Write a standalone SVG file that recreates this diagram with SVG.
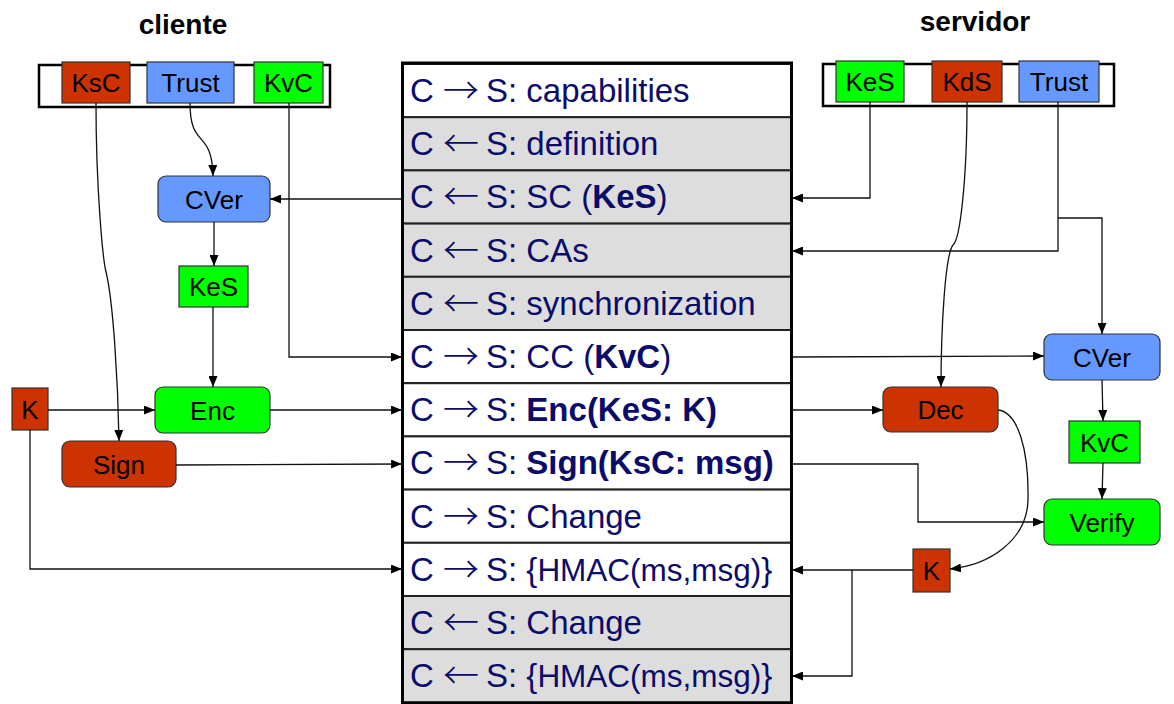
<svg xmlns="http://www.w3.org/2000/svg" width="1174" height="704" viewBox="0 0 1174 704">
<style>
.ttl{font-family:"Liberation Sans",Arial,sans-serif;font-weight:bold;font-size:28px;fill:#000;text-anchor:middle}
.nl{font-family:"Liberation Sans",Arial,sans-serif;font-size:26px;fill:#000;text-anchor:middle}
.red{fill:#cc3300;stroke:#333;stroke-width:1.2}
.blue{fill:#6699ff;stroke:#333;stroke-width:1.2}
.green{fill:#00ff00;stroke:#333;stroke-width:1.2}
.bar{fill:#fff;stroke:#000;stroke-width:2.5}
.row{stroke:#222;stroke-width:2}
.w{fill:#fff}
.g{fill:#dddddd}
.tx{font-family:"Liberation Sans",Arial,sans-serif;font-size:33px;fill:#0b0b6b}
.ar{font-family:"Noto Sans CJK SC","Noto Sans CJK JP",sans-serif;font-size:36px;font-weight:300}
.b{font-weight:bold}
.sm{font-size:31.5px}
.c{fill:none;stroke:#111;stroke-width:1.3;marker-end:url(#ah)}
</style>
<defs>
<marker id="ah" markerUnits="userSpaceOnUse" markerWidth="11" markerHeight="9" refX="11" refY="4.5" orient="auto">
<path d="M0,0 L11,4.5 L0,9 z" fill="#000"/>
</marker>
</defs>
<rect x="0" y="0" width="1174" height="704" fill="#fff"/>

<text class="ttl" x="183" y="34">cliente</text>
<text class="ttl" x="975" y="31">servidor</text>

<g id="table">
<rect class="row w" x="403" y="64" width="388" height="53.2"/>
<rect class="row g" x="403" y="117.2" width="388" height="53.2"/>
<rect class="row g" x="403" y="170.4" width="388" height="53.2"/>
<rect class="row g" x="403" y="223.6" width="388" height="53.2"/>
<rect class="row g" x="403" y="276.8" width="388" height="53.2"/>
<rect class="row w" x="403" y="330" width="388" height="53.2"/>
<rect class="row w" x="403" y="383.2" width="388" height="53.2"/>
<rect class="row w" x="403" y="436.4" width="388" height="53.2"/>
<rect class="row w" x="403" y="489.6" width="388" height="53.2"/>
<rect class="row w" x="403" y="542.8" width="388" height="53.2"/>
<rect class="row g" x="403" y="596" width="388" height="53.2"/>
<rect class="row g" x="403" y="649.2" width="388" height="53.2"/>
<rect x="402.5" y="63" width="389" height="640" fill="none" stroke="#000" stroke-width="3"/>
<text class="tx" y="102"><tspan x="410">C</tspan><tspan class="ar" x="443" y="104">→</tspan><tspan x="486" y="102">S: capabilities</tspan></text>
<text class="tx" y="155.2"><tspan x="410">C</tspan><tspan class="ar" x="443" y="157.2">←</tspan><tspan x="486" y="155.2">S: definition</tspan></text>
<text class="tx" y="208.4"><tspan x="410">C</tspan><tspan class="ar" x="443" y="210.4">←</tspan><tspan x="486" y="208.4">S: SC (</tspan><tspan class="b">KeS</tspan><tspan>)</tspan></text>
<text class="tx" y="261.6"><tspan x="410">C</tspan><tspan class="ar" x="443" y="263.6">←</tspan><tspan x="486" y="261.6">S: CAs</tspan></text>
<text class="tx" y="314.8"><tspan x="410">C</tspan><tspan class="ar" x="443" y="316.8">←</tspan><tspan x="486" y="314.8">S: synchronization</tspan></text>
<text class="tx" y="368"><tspan x="410">C</tspan><tspan class="ar" x="443" y="370">→</tspan><tspan x="486" y="368">S: CC (</tspan><tspan class="b">KvC</tspan><tspan>)</tspan></text>
<text class="tx" y="421.2"><tspan x="410">C</tspan><tspan class="ar" x="443" y="423.2">→</tspan><tspan x="486" y="421.2">S: </tspan><tspan class="b">Enc(KeS: K)</tspan></text>
<text class="tx" y="474.4"><tspan x="410">C</tspan><tspan class="ar" x="443" y="476.4">→</tspan><tspan x="486" y="474.4">S: </tspan><tspan class="b">Sign(KsC: msg)</tspan></text>
<text class="tx" y="527.6"><tspan x="410">C</tspan><tspan class="ar" x="443" y="529.6">→</tspan><tspan x="486" y="527.6">S: Change</tspan></text>
<text class="tx" y="580.8"><tspan x="410">C</tspan><tspan class="ar" x="443" y="582.8">→</tspan><tspan x="486" y="580.8">S: {</tspan><tspan class="sm">HMAC(ms,msg)</tspan><tspan>}</tspan></text>
<text class="tx" y="634"><tspan x="410">C</tspan><tspan class="ar" x="443" y="636">←</tspan><tspan x="486" y="634">S: Change</tspan></text>
<text class="tx" y="687.2"><tspan x="410">C</tspan><tspan class="ar" x="443" y="689.2">←</tspan><tspan x="486" y="687.2">S: {</tspan><tspan class="sm">HMAC(ms,msg)</tspan><tspan>}</tspan></text>
</g>

<g id="client-keys">
<rect class="bar" x="39" y="65" width="291" height="42"/>
</g>
<g id="c-KsC"><rect class="red" x="62" y="62" width="68" height="41"/><text class="nl" x="96" y="92">KsC</text></g>
<g id="c-Trust"><rect class="blue" x="147" y="62" width="87" height="41"/><text class="nl" x="190.5" y="92">Trust</text></g>
<g id="c-KvC"><rect class="green" x="254" y="62" width="69" height="41"/><text class="nl" x="288.5" y="92">KvC</text></g>
<g id="c-CVer"><rect class="blue" x="158" y="176" width="112" height="46" rx="8"/><text class="nl" x="214" y="208.5">CVer</text></g>
<g id="c-KeS"><rect class="green" x="179" y="266" width="69" height="41"/><text class="nl" x="213.5" y="296">KeS</text></g>
<g id="c-Enc"><rect class="green" x="155" y="387" width="115" height="46" rx="8"/><text class="nl" x="212.5" y="419.5">Enc</text></g>
<g id="c-K"><rect class="red" x="12" y="388" width="36" height="42"/><text class="nl" x="30" y="418.5">K</text></g>
<g id="c-Sign"><rect class="red" x="62" y="441" width="114" height="46" rx="8"/><text class="nl" x="119" y="473.5">Sign</text></g>

<g id="server-keys">
<rect class="bar" x="823" y="64" width="291" height="42"/>
</g>
<g id="s-KeS"><rect class="green" x="836" y="61" width="68" height="41"/><text class="nl" x="870" y="91">KeS</text></g>
<g id="s-KdS"><rect class="red" x="932" y="61" width="70" height="41"/><text class="nl" x="967" y="91">KdS</text></g>
<g id="s-Trust"><rect class="blue" x="1019" y="61" width="80" height="41"/><text class="nl" x="1059" y="91">Trust</text></g>
<g id="s-CVer"><rect class="blue" x="1044" y="334" width="116" height="46" rx="8"/><text class="nl" x="1102" y="366.5">CVer</text></g>
<g id="s-Dec"><rect class="red" x="883" y="387" width="115" height="45" rx="8"/><text class="nl" x="940.5" y="419">Dec</text></g>
<g id="s-KvC"><rect class="green" x="1069" y="421" width="71" height="42"/><text class="nl" x="1104.5" y="451.5">KvC</text></g>
<g id="s-Verify"><rect class="green" x="1044" y="499" width="116" height="46" rx="8"/><text class="nl" x="1102" y="531.5">Verify</text></g>
<g id="s-K"><rect class="red" x="913" y="549" width="37" height="43"/><text class="nl" x="931.5" y="580">K</text></g>

<g id="connectors">
<path class="c" d="M190,103 C190,150 212,128 213,176"/>
<path class="c" d="M214,222 L214,266"/>
<path class="c" d="M213,307 L213,387"/>
<path class="c" d="M96,103 C96,190 103,260 106,272 C113,300 118,380 119,441"/>
<path class="c" d="M289,103 L289,357 L402,357"/>
<path class="c" d="M48,410 L155,410"/>
<path class="c" d="M270,410 L402,410"/>
<path class="c" d="M176,465 L402,464"/>
<path class="c" d="M30,430 L30,569 L402,569"/>
<path class="c" d="M402,199 L270,199"/>
<path class="c" d="M870,102 L870,198 L792,198"/>
<path class="c" d="M1058,102 L1058,251 L792,251"/>
<path class="c" d="M1058,218 L1102,218 L1102,334"/>
<path class="c" d="M967,102 C967,180 960,240 953,245 C945,255 941,330 941,387"/>
<path class="c" d="M792,357 L1044,356"/>
<path class="c" d="M792,410 L883,410"/>
<path class="c" d="M1102,380 L1103,421"/>
<path class="c" d="M1103,463 L1102,499"/>
<path class="c" d="M792,464 L918,464 L918,522 L1044,522"/>
<path class="c" d="M998,410 C1018,412 1029,450 1028,500 C1027,540 990,565 950,569"/>
<path class="c" d="M913,570 L792,570"/>
<path class="c" d="M852,570 L852,676 L792,676"/>
</g>
</svg>
